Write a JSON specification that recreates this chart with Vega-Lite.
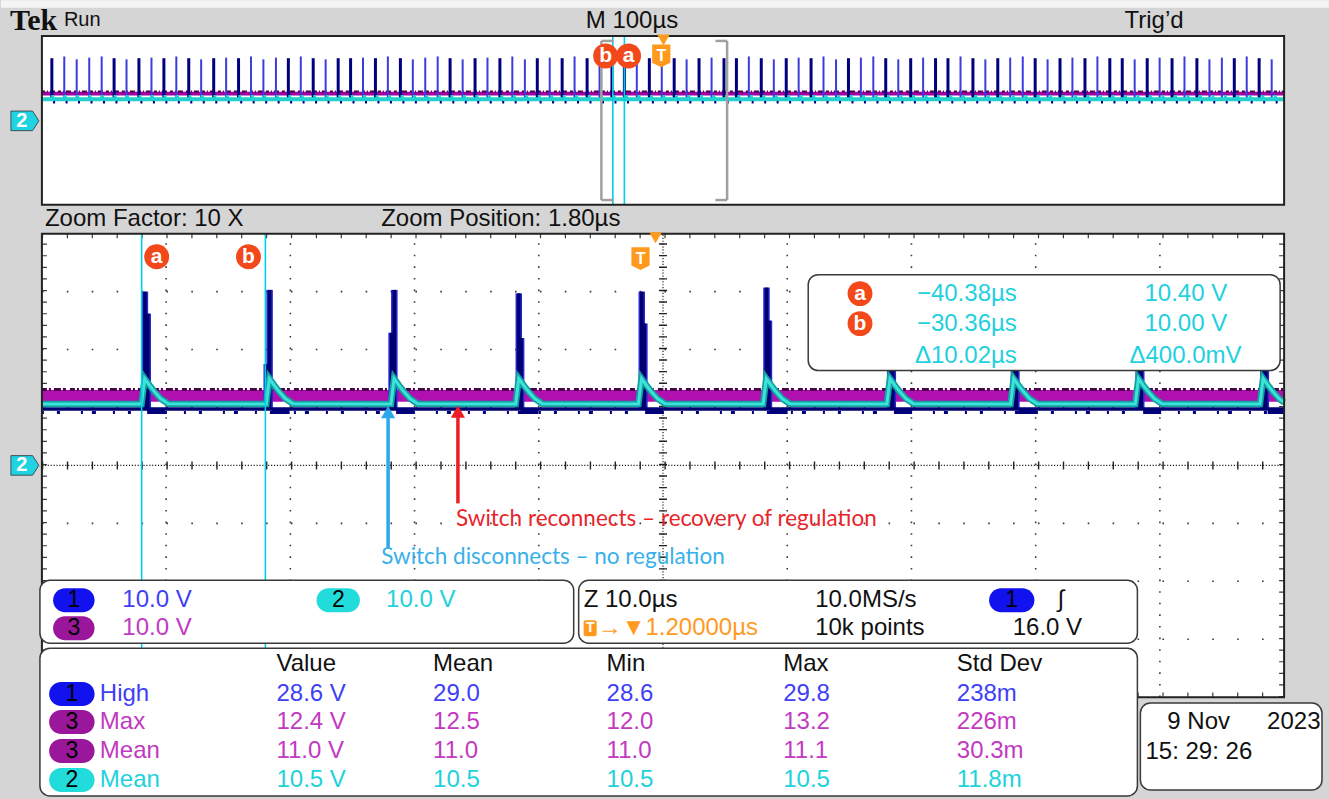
{
"$schema":"https://vega.github.io/schema/vega-lite/v6.json",
"width":1329,"height":799,
"autosize":{"type":"fit","contains":"padding"},
"padding":0,
"background":"#d5d5d5",
"config":{"view":{"stroke":null},"legend":{"disable":true}},
"encoding":{
 "x":{"field":"u","type":"quantitative","scale":{"domain":[-0.3213,10.3534],"nice":false,"zero":false},"axis":null},
 "y":{"field":"v","type":"quantitative","scale":{"domain":[-5.7586,8.0172],"nice":false,"zero":false},"axis":null}
},
"datasets":{
 "panels":[{"u":0,"u2":10,"v":4.5,"v2":7.414},{"u":0,"u2":10,"v":-4,"v2":4}],
 "boxes":[
  {"u":6.169,"u2":9.968,"v":1.638,"v2":3.293},
  {"u":-0.016,"u2":4.281,"v":-3.069,"v2":-1.983},
  {"u":4.321,"u2":8.819,"v":-3.069,"v2":-1.983},
  {"u":-0.016,"u2":8.819,"v":-5.707,"v2":-3.155},
  {"u":8.843,"u2":10.305,"v":-5.603,"v2":-4.103}
 ],
 "gridV":[{"u":1,"v":-4,"v2":4},{"u":2,"v":-4,"v2":4},{"u":3,"v":-4,"v2":4},{"u":4,"v":-4,"v2":4},{"u":6,"v":-4,"v2":4},{"u":7,"v":-4,"v2":4},{"u":8,"v":-4,"v2":4},{"u":9,"v":-4,"v2":4}],
 "gridH":[{"u":0,"u2":10,"v":-3},{"u":0,"u2":10,"v":-2},{"u":0,"u2":10,"v":-1},{"u":0,"u2":10,"v":1},{"u":0,"u2":10,"v":2},{"u":0,"u2":10,"v":3}],
 "cyan":[{"u":0,"v":1.06},
  {"u":0.802,"v":1.06},{"u":0.827,"v":1.5},{"u":0.867,"v":1.38},{"u":0.907,"v":1.27},{"u":0.957,"v":1.15},{"u":1.017,"v":1.065},
  {"u":1.806,"v":1.06},{"u":1.831,"v":1.5},{"u":1.871,"v":1.38},{"u":1.911,"v":1.27},{"u":1.961,"v":1.15},{"u":2.021,"v":1.065},
  {"u":2.81,"v":1.06},{"u":2.835,"v":1.5},{"u":2.875,"v":1.38},{"u":2.915,"v":1.27},{"u":2.965,"v":1.15},{"u":3.025,"v":1.065},
  {"u":3.814,"v":1.06},{"u":3.839,"v":1.5},{"u":3.879,"v":1.38},{"u":3.919,"v":1.27},{"u":3.969,"v":1.15},{"u":4.029,"v":1.065},
  {"u":4.802,"v":1.06},{"u":4.827,"v":1.5},{"u":4.867,"v":1.38},{"u":4.907,"v":1.27},{"u":4.957,"v":1.15},{"u":5.017,"v":1.065},
  {"u":5.806,"v":1.06},{"u":5.831,"v":1.5},{"u":5.871,"v":1.38},{"u":5.911,"v":1.27},{"u":5.961,"v":1.15},{"u":6.021,"v":1.065},
  {"u":6.802,"v":1.06},{"u":6.827,"v":1.5},{"u":6.867,"v":1.38},{"u":6.907,"v":1.27},{"u":6.957,"v":1.15},{"u":7.017,"v":1.065},
  {"u":7.798,"v":1.06},{"u":7.823,"v":1.5},{"u":7.863,"v":1.38},{"u":7.903,"v":1.27},{"u":7.953,"v":1.15},{"u":8.013,"v":1.065},
  {"u":8.802,"v":1.06},{"u":8.827,"v":1.5},{"u":8.867,"v":1.38},{"u":8.907,"v":1.27},{"u":8.957,"v":1.15},{"u":9.017,"v":1.065},
  {"u":9.806,"v":1.06},{"u":9.831,"v":1.5},{"u":9.871,"v":1.38},{"u":9.911,"v":1.27},{"u":9.961,"v":1.15},{"u":10,"v":1.09}],
 "mspikes":[
  {"u":0.829,"v":0.97,"v2":3.0},{"u":1.833,"v":0.97,"v2":3.03},{"u":2.837,"v":0.97,"v2":3.03},{"u":3.839,"v":0.97,"v2":2.97},{"u":4.829,"v":0.97,"v2":3.0},
  {"u":5.833,"v":0.97,"v2":3.07},{"u":6.829,"v":0.97,"v2":3.0},{"u":7.825,"v":0.97,"v2":3.0},{"u":8.829,"v":0.97,"v2":3.0},{"u":9.833,"v":0.97,"v2":3.0},
  {"u":0.852,"v":0.97,"v2":2.62},{"u":1.81,"v":0.97,"v2":1.75},{"u":2.815,"v":0.97,"v2":2.29},{"u":3.858,"v":0.97,"v2":2.2},{"u":4.85,"v":0.97,"v2":2.45},
  {"u":5.853,"v":0.97,"v2":2.5},{"u":6.85,"v":0.97,"v2":2.3},{"u":7.845,"v":0.97,"v2":2.4},{"u":8.85,"v":0.97,"v2":2.3},{"u":9.853,"v":0.97,"v2":2.4}],
 "ospikes":[
  {"u":0.080,"v2":7.03,"lv":1},{"u":0.180,"v2":7.06,"lv":2},{"u":0.280,"v2":7.01,"lv":2},{"u":0.381,"v2":7.04,"lv":2},{"u":0.481,"v2":7.06,"lv":2},
  {"u":0.581,"v2":7.03,"lv":1},{"u":0.681,"v2":7.01,"lv":2},{"u":0.781,"v2":7.03,"lv":1},{"u":0.882,"v2":7.04,"lv":2},{"u":0.982,"v2":7.03,"lv":1},
  {"u":1.082,"v2":7.06,"lv":2},{"u":1.182,"v2":7.03,"lv":1},{"u":1.282,"v2":7.01,"lv":2},{"u":1.383,"v2":7.03,"lv":1},{"u":1.483,"v2":7.04,"lv":2},
  {"u":1.583,"v2":7.03,"lv":1},{"u":1.683,"v2":7.06,"lv":2},{"u":1.783,"v2":7.01,"lv":2},{"u":1.884,"v2":7.04,"lv":2},{"u":1.984,"v2":7.03,"lv":1},
  {"u":2.084,"v2":7.06,"lv":2},{"u":2.184,"v2":7.03,"lv":1},{"u":2.284,"v2":7.01,"lv":2},{"u":2.385,"v2":7.03,"lv":1},{"u":2.485,"v2":7.03,"lv":1},
  {"u":2.585,"v2":7.04,"lv":2},{"u":2.685,"v2":7.03,"lv":1},{"u":2.785,"v2":7.06,"lv":2},{"u":2.886,"v2":7.03,"lv":1},{"u":2.986,"v2":7.01,"lv":2},
  {"u":3.086,"v2":7.04,"lv":2},{"u":3.186,"v2":7.06,"lv":2},{"u":3.286,"v2":7.03,"lv":1},{"u":3.387,"v2":7.01,"lv":2},{"u":3.487,"v2":7.03,"lv":1},
  {"u":3.587,"v2":7.04,"lv":2},{"u":3.687,"v2":7.03,"lv":1},{"u":3.787,"v2":7.06,"lv":2},{"u":3.888,"v2":7.01,"lv":2},{"u":3.988,"v2":7.03,"lv":1},
  {"u":4.088,"v2":7.04,"lv":2},{"u":4.188,"v2":7.03,"lv":1},{"u":4.288,"v2":7.06,"lv":2},{"u":4.389,"v2":7.03,"lv":1},{"u":4.489,"v2":7.01,"lv":2},
  {"u":4.589,"v2":7.03,"lv":1},{"u":4.689,"v2":7.03,"lv":1},{"u":4.789,"v2":7.04,"lv":2},{"u":4.890,"v2":7.03,"lv":1},{"u":4.990,"v2":7.06,"lv":2},
  {"u":5.090,"v2":7.03,"lv":1},{"u":5.190,"v2":7.01,"lv":2},{"u":5.290,"v2":7.03,"lv":1},{"u":5.391,"v2":7.04,"lv":2},{"u":5.491,"v2":7.03,"lv":1},
  {"u":5.591,"v2":7.03,"lv":1},{"u":5.691,"v2":7.06,"lv":2},{"u":5.791,"v2":7.03,"lv":1},{"u":5.892,"v2":7.01,"lv":2},{"u":5.992,"v2":7.03,"lv":1},
  {"u":6.092,"v2":7.04,"lv":2},{"u":6.192,"v2":7.03,"lv":1},{"u":6.292,"v2":7.06,"lv":2},{"u":6.393,"v2":7.01,"lv":2},{"u":6.493,"v2":7.03,"lv":1},
  {"u":6.593,"v2":7.04,"lv":2},{"u":6.693,"v2":7.06,"lv":2},{"u":6.793,"v2":7.03,"lv":1},{"u":6.894,"v2":7.01,"lv":2},{"u":6.994,"v2":7.03,"lv":1},
  {"u":7.094,"v2":7.04,"lv":2},{"u":7.194,"v2":7.03,"lv":1},{"u":7.294,"v2":7.03,"lv":1},{"u":7.395,"v2":7.06,"lv":2},{"u":7.495,"v2":7.03,"lv":1},
  {"u":7.595,"v2":7.01,"lv":2},{"u":7.695,"v2":7.03,"lv":1},{"u":7.795,"v2":7.04,"lv":2},{"u":7.896,"v2":7.06,"lv":2},{"u":7.996,"v2":7.03,"lv":1},
  {"u":8.096,"v2":7.01,"lv":2},{"u":8.196,"v2":7.03,"lv":1},{"u":8.296,"v2":7.04,"lv":2},{"u":8.397,"v2":7.03,"lv":1},{"u":8.497,"v2":7.06,"lv":2},
  {"u":8.597,"v2":7.03,"lv":1},{"u":8.697,"v2":7.03,"lv":1},{"u":8.797,"v2":7.01,"lv":2},{"u":8.898,"v2":7.03,"lv":1},{"u":8.998,"v2":7.04,"lv":2},
  {"u":9.098,"v2":7.03,"lv":1},{"u":9.198,"v2":7.06,"lv":2},{"u":9.298,"v2":7.03,"lv":1},{"u":9.399,"v2":7.01,"lv":2},{"u":9.499,"v2":7.04,"lv":2},
  {"u":9.599,"v2":7.03,"lv":1},{"u":9.699,"v2":7.06,"lv":2},{"u":9.799,"v2":7.03,"lv":1},{"u":9.900,"v2":7.01,"lv":2}],
 "pills":[
  {"u":0.09,"u2":0.424,"v":-2.12,"v2":-2.535,"ch":"1"},
  {"u":2.211,"u2":2.56,"v":-2.12,"v2":-2.535,"ch":"2"},
  {"u":0.09,"u2":0.424,"v":-2.603,"v2":-3.017,"ch":"3"},
  {"u":7.625,"u2":7.99,"v":-2.12,"v2":-2.535,"ch":"1"},
  {"u":0.058,"u2":0.424,"v":-3.74,"v2":-4.155,"ch":"1"},
  {"u":0.058,"u2":0.424,"v":-4.224,"v2":-4.638,"ch":"3"},
  {"u":0.058,"u2":0.424,"v":-4.724,"v2":-5.138,"ch":"3"},
  {"u":0.058,"u2":0.424,"v":-5.224,"v2":-5.638,"ch":"2"}],
 "pnum":[
  {"u":0.257,"v":-2.328,"t":"1"},{"u":2.386,"v":-2.328,"t":"2"},{"u":0.257,"v":-2.81,"t":"3"},{"u":7.807,"v":-2.328,"t":"1"},
  {"u":0.241,"v":-3.948,"t":"1"},{"u":0.241,"v":-4.431,"t":"3"},{"u":0.241,"v":-4.931,"t":"3"},{"u":0.241,"v":-5.431,"t":"2"}],
 "txt":[
  {"u":4.378,"v":7.672,"t":"M 100µs","g":"k"},
  {"u":8.715,"v":7.672,"t":"Trig’d","g":"k"},
  {"u":0.024,"v":4.25,"t":"Zoom Factor: 10 X","g":"k"},
  {"u":2.731,"v":4.25,"t":"Zoom Position: 1.80µs","g":"k"},
  {"u":7.044,"v":2.966,"t":"−40.38µs","g":"cy"},
  {"u":7.044,"v":2.448,"t":"−30.36µs","g":"cy"},
  {"u":7.028,"v":1.897,"t":"Δ10.02µs","g":"cy"},
  {"u":8.876,"v":2.966,"t":"10.40 V","g":"cy"},
  {"u":8.876,"v":2.448,"t":"10.00 V","g":"cy"},
  {"u":8.755,"v":1.897,"t":"Δ400.0mV","g":"cy"},
  {"u":0.647,"v":-2.328,"t":"10.0 V","g":"c1"},
  {"u":2.771,"v":-2.328,"t":"10.0 V","g":"c2"},
  {"u":0.647,"v":-2.81,"t":"10.0 V","g":"c3"},
  {"u":4.361,"v":-2.328,"t":"Z 10.0µs","g":"k"},
  {"u":6.225,"v":-2.328,"t":"10.0MS/s","g":"k"},
  {"u":8.177,"v":-2.328,"t":"∫","g":"k"},
  {"u":4.474,"v":-2.81,"t":"→▼1.20000µs","g":"or"},
  {"u":6.225,"v":-2.81,"t":"10k points","g":"k"},
  {"u":7.815,"v":-2.81,"t":"16.0 V","g":"k"},
  {"u":1.888,"v":-3.431,"t":"Value","g":"k"},
  {"u":3.149,"v":-3.431,"t":"Mean","g":"k"},
  {"u":4.546,"v":-3.431,"t":"Min","g":"k"},
  {"u":5.968,"v":-3.431,"t":"Max","g":"k"},
  {"u":7.365,"v":-3.431,"t":"Std Dev","g":"k"},
  {"u":0.466,"v":-3.948,"t":"High","g":"c1"},
  {"u":1.888,"v":-3.948,"t":"28.6 V","g":"c1"},
  {"u":3.149,"v":-3.948,"t":"29.0","g":"c1"},
  {"u":4.546,"v":-3.948,"t":"28.6","g":"c1"},
  {"u":5.968,"v":-3.948,"t":"29.8","g":"c1"},
  {"u":7.365,"v":-3.948,"t":"238m","g":"c1"},
  {"u":0.466,"v":-4.431,"t":"Max","g":"c3"},
  {"u":1.888,"v":-4.431,"t":"12.4 V","g":"c3"},
  {"u":3.149,"v":-4.431,"t":"12.5","g":"c3"},
  {"u":4.546,"v":-4.431,"t":"12.0","g":"c3"},
  {"u":5.968,"v":-4.431,"t":"13.2","g":"c3"},
  {"u":7.365,"v":-4.431,"t":"226m","g":"c3"},
  {"u":0.466,"v":-4.931,"t":"Mean","g":"c3"},
  {"u":1.888,"v":-4.931,"t":"11.0 V","g":"c3"},
  {"u":3.149,"v":-4.931,"t":"11.0","g":"c3"},
  {"u":4.546,"v":-4.931,"t":"11.0","g":"c3"},
  {"u":5.968,"v":-4.931,"t":"11.1","g":"c3"},
  {"u":7.365,"v":-4.931,"t":"30.3m","g":"c3"},
  {"u":0.466,"v":-5.431,"t":"Mean","g":"c2"},
  {"u":1.888,"v":-5.431,"t":"10.5 V","g":"c2"},
  {"u":3.149,"v":-5.431,"t":"10.5","g":"c2"},
  {"u":4.546,"v":-5.431,"t":"10.5","g":"c2"},
  {"u":5.968,"v":-5.431,"t":"10.5","g":"c2"},
  {"u":7.365,"v":-5.431,"t":"11.8m","g":"c2"},
  {"u":9.06,"v":-4.431,"t":"9 Nov","g":"k"},
  {"u":9.863,"v":-4.431,"t":"2023","g":"k"},
  {"u":8.884,"v":-4.948,"t":"15: 29: 26","g":"k"}],
 "circles":[{"u":0.924,"v":3.603,"t":"a"},{"u":1.663,"v":3.603,"t":"b"},{"u":4.538,"v":7.069,"t":"b"},{"u":4.723,"v":7.069,"t":"a"},{"u":6.586,"v":2.966,"t":"a"},{"u":6.586,"v":2.448,"t":"b"}],
 "shields":[{"u":4.819,"v":3.569,"t":"T"},{"u":4.986,"v":7.069,"t":"T"}],
 "tags":[{"u":-0.137,"v":0,"t":"2"},{"u":-0.137,"v":5.948,"t":"2"}]
},
"layer":[
 {"data":{"name":"panels"},"mark":{"type":"rect","fill":"#ffffff"},"encoding":{"x2":{"field":"u2"},"y2":{"field":"v2"}}},
 {"data":{"values":[{"u":-0.33,"u2":10.36,"v":7.9,"v2":8.03}]},"mark":{"type":"rect","fill":"#f4f4f4"},"encoding":{"x2":{"field":"u2"},"y2":{"field":"v2"}}},
 {"data":{"name":"gridV"},"mark":{"type":"rule","color":"#3a3a3a","strokeWidth":1.6,"strokeDash":[1.6,10]},"encoding":{"y2":{"field":"v2"}}},
 {"data":{"name":"gridH"},"mark":{"type":"rule","color":"#3a3a3a","strokeWidth":1.6,"strokeDash":[1.6,23.3]},"encoding":{"x2":{"field":"u2"}}},
 {"data":{"values":[{"u":0.02,"v":-4,"v2":4},{"u":9.98,"v":-4,"v2":4}]},"mark":{"type":"rule","color":"#3a3a3a","strokeWidth":5,"strokeDash":[1.2,10.4]},"encoding":{"y2":{"field":"v2"}}},
 {"data":{"values":[{"u":0,"u2":10,"v":3.965},{"u":0,"u2":10,"v":-3.965}]},"mark":{"type":"rule","color":"#3a3a3a","strokeWidth":5,"strokeDash":[1.2,23.7]},"encoding":{"x2":{"field":"u2"}}},
 {"data":{"values":[{"u":5,"v":-4,"v2":4}]},"mark":{"type":"rule","color":"#222222","strokeWidth":8,"strokeDash":[1.4,10.2]},"encoding":{"y2":{"field":"v2"}}},
 {"data":{"values":[{"u":0,"u2":10,"v":0}]},"mark":{"type":"rule","color":"#222222","strokeWidth":8,"strokeDash":[1.4,23.5]},"encoding":{"x2":{"field":"u2"}}},
 {"data":{"values":[{"u":5,"v":-4,"v2":4}]},"mark":{"type":"rule","color":"#222222","strokeWidth":1.2,"strokeDash":[1.2,1.7]},"encoding":{"y2":{"field":"v2"}}},
 {"data":{"values":[{"u":0,"u2":10,"v":0}]},"mark":{"type":"rule","color":"#222222","strokeWidth":1.2,"strokeDash":[1.2,1.7]},"encoding":{"x2":{"field":"u2"}}},

 {"data":{"values":[{"u":0,"u2":10,"v":1.1,"v2":1.3}]},"mark":{"type":"rect","fill":"#b010b0"},"encoding":{"x2":{"field":"u2"},"y2":{"field":"v2"}}},
 {"data":{"values":[{"u":0,"u2":10,"v":1.31}]},"mark":{"type":"rule","color":"#4b004b","strokeWidth":3,"strokeDash":[5,2,2,3,7,2,3,4]},"encoding":{"x2":{"field":"u2"}}},
 {"data":{"name":"mspikes"},"mark":{"type":"rule","color":"#2626d0","strokeWidth":6.5},"encoding":{"y2":{"field":"v2"}}},
 {"data":{"name":"mspikes"},"mark":{"type":"rule","color":"#00006e","strokeWidth":3.5},"encoding":{"y2":{"field":"v2"}}},
 {"data":{"values":[{"u":0,"u2":10,"v":0.975}]},"mark":{"type":"rule","color":"#00006e","strokeWidth":3.5},"encoding":{"x2":{"field":"u2"}}},
 {"data":{"values":[{"u":0.847,"u2":10,"v":0.94}]},"mark":{"type":"rule","color":"#000078","strokeWidth":6,"strokeDash":[18,106.5]},"encoding":{"x2":{"field":"u2"}}},
 {"data":{"values":[{"u":0,"u2":10,"v":0.915}]},"mark":{"type":"rule","color":"#000080","strokeWidth":3,"strokeDash":[2,13,3,21,2,9,4,17]},"encoding":{"x2":{"field":"u2"}}},
 {"data":{"name":"cyan"},"mark":{"type":"line","color":"#119f9f","strokeWidth":6.5},"encoding":{}},
 {"data":{"name":"cyan"},"mark":{"type":"line","color":"#3de3da","strokeWidth":3},"encoding":{}},

 {"data":{"values":[{"u":0,"u2":10,"v":6.385,"v2":6.45}]},"mark":{"type":"rect","fill":"#a000a0"},"encoding":{"x2":{"field":"u2"},"y2":{"field":"v2"}}},
 {"data":{"values":[{"u":0,"u2":10,"v":6.455}]},"mark":{"type":"rule","color":"#4b004b","strokeWidth":2,"strokeDash":[3,2,1,2,5,3]},"encoding":{"x2":{"field":"u2"}}},
 {"data":{"name":"ospikes"},"mark":{"type":"rule"},"encoding":{"y":{"field":"v2","type":"quantitative"},"y2":{"datum":6.33},
   "color":{"field":"lv","type":"nominal","scale":{"domain":[1,2],"range":["#00007e","#3c3cdc"]}},
   "strokeWidth":{"field":"lv","type":"ordinal","scale":{"domain":[1,2],"range":[3,2]}}}},
 {"data":{"values":[{"u":0,"u2":10,"v":6.322}]},"mark":{"type":"rule","color":"#22cfcf","strokeWidth":4},"encoding":{"x2":{"field":"u2"}}},
 {"data":{"values":[{"u":0.075,"u2":10,"v":6.36}]},"mark":{"type":"rule","color":"#22cfcf","strokeWidth":4,"strokeDash":[3,9.475]},"encoding":{"x2":{"field":"u2"}}},
 {"data":{"values":[{"u":0.09,"u2":10,"v":6.27}]},"mark":{"type":"rule","color":"#000080","strokeWidth":2.5,"strokeDash":[2,10.475]},"encoding":{"x2":{"field":"u2"}}},

 {"data":{"values":[{"u":0.803,"v":-4,"v2":4},{"u":1.799,"v":-4,"v2":4},{"u":4.596,"v":4.5,"v2":7.414},{"u":4.689,"v":4.5,"v2":7.414}]},"mark":{"type":"rule","color":"#00cfe8","strokeWidth":1.6},"encoding":{"y2":{"field":"v2"}}},
 {"data":{"values":[
   {"u":4.504,"u2":4.504,"v":4.581,"v2":7.328},{"u":4.504,"u2":4.602,"v":7.328,"v2":7.328},{"u":4.504,"u2":4.602,"v":4.581,"v2":4.581},
   {"u":5.516,"u2":5.516,"v":4.581,"v2":7.328},{"u":5.422,"u2":5.516,"v":7.328,"v2":7.328},{"u":5.422,"u2":5.516,"v":4.581,"v2":4.581}]},
  "mark":{"type":"rule","color":"#a0a0a0","strokeWidth":2.5},"encoding":{"x2":{"field":"u2"},"y2":{"field":"v2"}}},
 {"data":{"name":"panels"},"mark":{"type":"rect","fillOpacity":0,"stroke":"#222222","strokeWidth":2},"encoding":{"x2":{"field":"u2"},"y2":{"field":"v2"}}},
 {"data":{"name":"boxes"},"mark":{"type":"rect","cornerRadius":10,"fill":"#ffffff","stroke":"#3a3a3a","strokeWidth":1.5},"encoding":{"x2":{"field":"u2"},"y2":{"field":"v2"}}},
 {"data":{"name":"pills"},"mark":{"type":"rect","cornerRadius":12},"encoding":{"x2":{"field":"u2"},"y2":{"field":"v2"},
   "fill":{"field":"ch","type":"nominal","scale":{"domain":["1","2","3"],"range":["#1212ee","#22dcdc","#9a169a"]}}}},
 {"data":{"values":[{"u":4.361,"u2":4.466,"v":-2.672,"v2":-2.948}]},"mark":{"type":"rect","fill":"#ff9a1f","cornerRadius":2},"encoding":{"x2":{"field":"u2"},"y2":{"field":"v2"}}},
 {"data":{"name":"txt"},"mark":{"type":"text","align":"left","baseline":"middle","font":"Liberation Sans","fontSize":24},
  "encoding":{"text":{"field":"t"},"color":{"field":"g","type":"nominal","scale":{"domain":["k","c1","c2","c3","cy","or"],"range":["#111111","#3f3ff5","#1ed2dc","#c13ac1","#1fd0e0","#ff9a1f"]}}}},
 {"data":{"name":"pnum"},"mark":{"type":"text","align":"center","baseline":"middle","font":"Liberation Sans","fontSize":23,"color":"#000000"},"encoding":{"text":{"field":"t"}}},
 {"data":{"values":[{"u":-0.257,"v":7.672,"t":"Tek"}]},"mark":{"type":"text","align":"left","baseline":"middle","font":"Liberation Serif","fontWeight":"bold","fontSize":30,"color":"#111111"},"encoding":{"text":{"field":"t"}}},
 {"data":{"values":[{"u":0.177,"v":7.69,"t":"Run"}]},"mark":{"type":"text","align":"left","baseline":"middle","font":"Liberation Sans","fontSize":20,"color":"#111111"},"encoding":{"text":{"field":"t"}}},
 {"data":{"values":[{"u":4.414,"v":-2.81,"t":"T"}]},"mark":{"type":"text","align":"center","baseline":"middle","font":"Liberation Sans","fontWeight":"bold","fontSize":14,"color":"#ffffff"},"encoding":{"text":{"field":"t"}}},
 {"data":{"name":"circles"},"mark":{"type":"point","shape":"circle","filled":true,"color":"#f2481a","size":620,"opacity":1},"encoding":{}},
 {"data":{"name":"circles"},"mark":{"type":"text","align":"center","baseline":"middle","font":"Liberation Sans","fontWeight":"bold","fontSize":21,"color":"#ffffff"},"encoding":{"text":{"field":"t"}}},
 {"data":{"name":"shields"},"mark":{"type":"point","shape":"M-0.8,-1L0.8,-1L0.8,0.6L0,1L-0.8,0.6Z","filled":true,"color":"#ff9a1e","size":520,"opacity":1},"encoding":{}},
 {"data":{"name":"shields"},"mark":{"type":"text","align":"center","baseline":"middle","font":"Liberation Sans","fontWeight":"bold","fontSize":16,"color":"#ffffff"},"encoding":{"text":{"field":"t"}}},
 {"data":{"values":[{"u":4.94,"v":3.931},{"u":5.004,"v":7.345}]},"mark":{"type":"point","shape":"triangle-down","filled":true,"color":"#ff9a1e","size":160,"opacity":1},"encoding":{}},
 {"data":{"name":"tags"},"mark":{"type":"point","shape":"M-1,-0.7L0.55,-0.7L1,0L0.55,0.7L-1,0.7Z","filled":true,"color":"#1fd3e3","stroke":"#333333","strokeWidth":0.8,"size":784,"opacity":1},"encoding":{}},
 {"data":{"name":"tags"},"mark":{"type":"text","align":"center","baseline":"middle","font":"Liberation Sans","fontWeight":"bold","fontSize":20,"color":"#ffffff","dx":-3},"encoding":{"text":{"field":"t"}}},
 {"data":{"values":[{"u":2.787,"v":-1.43,"v2":0.86,"g":"b"},{"u":3.349,"v":-0.655,"v2":0.87,"g":"r"}]},"mark":{"type":"rule","strokeWidth":3.5},
  "encoding":{"y2":{"field":"v2"},"color":{"field":"g","type":"nominal","scale":{"domain":["b","r"],"range":["#2aa8ee","#ee1c24"]}}}},
 {"data":{"values":[{"u":2.787,"v":0.92,"g":"b"},{"u":3.349,"v":0.93,"g":"r"}]},"mark":{"type":"point","shape":"triangle-up","filled":true,"size":200,"opacity":1},
  "encoding":{"color":{"field":"g","type":"nominal","scale":{"domain":["b","r"],"range":["#2aa8ee","#ee1c24"]}}}},
 {"data":{"values":[{"u":2.731,"v":-1.586,"t":"Switch disconnects – no regulation","g":"b"},{"u":3.333,"v":-0.931,"t":"Switch reconnects – recovery of regulation","g":"r"}]},
  "mark":{"type":"text","align":"left","baseline":"middle","font":"Lato","fontSize":22.5},
  "encoding":{"text":{"field":"t"},"color":{"field":"g","type":"nominal","scale":{"domain":["b","r"],"range":["#38b0ea","#e8252b"]}}}}
],
"resolve":{"scale":{"color":"independent","fill":"independent","strokeWidth":"independent"}}
}
